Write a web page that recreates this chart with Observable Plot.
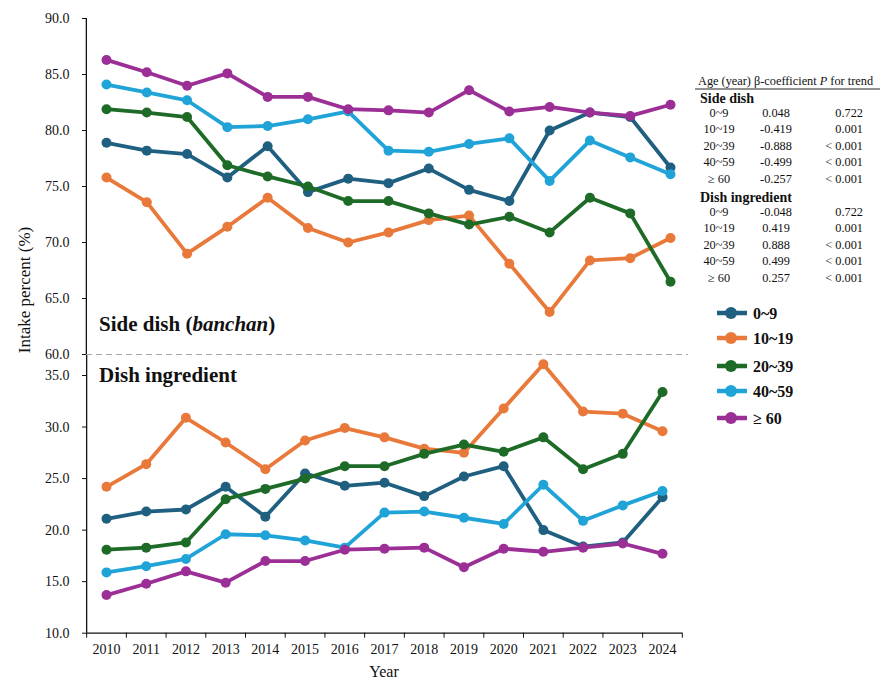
<!DOCTYPE html>
<html><head><meta charset="utf-8">
<script src="https://cdn.jsdelivr.net/npm/d3@7"></script>
<script src="https://cdn.jsdelivr.net/npm/@observablehq/plot@0.6"></script>
<style>
body{margin:0;background:#fff;}
#wrap{position:relative;width:889px;height:687px;overflow:hidden;background:#fff;}
#wrap svg{position:absolute;left:0;}
#wrap svg, #wrap svg text{font-family:"Liberation Serif","Times New Roman","DejaVu Serif","Noto Serif",Times,serif !important;}
</style></head><body><div id="wrap"></div>
<script>
// ---------- data ----------
const years = [2010,2011,2012,2013,2014,2015,2016,2017,2018,2019,2020,2021,2022,2023,2024];
const ageGroups = ["0~9","10~19","20~39","40~59","≥ 60"];
const colors = ["#1f5f80","#e8793a","#1e6b28","#20a4d8","#9b2f96"];

// Side dish (banchan) intake percent
const side_0_9   = [78.9,78.2,77.9,75.8,78.6,74.5,75.7,75.3,76.6,74.7,73.7,80.0,81.6,81.2,76.7];
const side_10_19 = [75.8,73.6,69.0,71.4,74.0,71.3,70.0,70.9,72.0,72.4,68.1,63.8,68.4,68.6,70.4];
const side_20_39 = [81.9,81.6,81.2,76.9,75.9,75.0,73.7,73.7,72.6,71.6,72.3,70.9,74.0,72.6,66.5];
const side_40_59 = [84.1,83.4,82.7,80.3,80.4,81.0,81.7,78.2,78.1,78.8,79.3,75.5,79.1,77.6,76.1];
const side_60    = [86.3,85.2,84.0,85.1,83.0,83.0,81.9,81.8,81.6,83.6,81.7,82.1,81.6,81.3,82.3];

// Dish ingredient intake percent
const ing_0_9   = [21.1,21.8,22.0,24.2,21.3,25.5,24.3,24.6,23.3,25.2,26.2,20.0,18.4,18.8,23.2];
const ing_10_19 = [24.2,26.4,30.9,28.5,25.9,28.7,29.9,29.0,27.9,27.5,31.8,36.1,31.5,31.3,29.6];
const ing_20_39 = [18.1,18.3,18.8,23.0,24.0,25.0,26.2,26.2,27.4,28.3,27.6,29.0,25.9,27.4,33.4];
const ing_40_59 = [15.9,16.5,17.2,19.6,19.5,19.0,18.3,21.7,21.8,21.2,20.6,24.4,20.9,22.4,23.8];
const ing_60    = [13.7,14.8,16.0,14.9,17.0,17.0,18.1,18.2,18.3,16.4,18.2,17.9,18.3,18.7,17.7];

const topTicks = [60,65,70,75,80,85,90];
const bottomTicks = [10,15,20,25,30,35];

// trend table
const tableAges = ["0~9","10~19","20~39","40~59","≥ 60"];
const sideBeta = ["0.048","-0.419","-0.888","-0.499","-0.257"];
const sideP    = ["0.722","0.001","< 0.001","< 0.001","< 0.001"];
const ingBeta  = ["-0.048","0.419","0.888","0.499","0.257"];
const ingP     = ["0.722","0.001","< 0.001","< 0.001","< 0.001"];

// ---------- build ----------
const sideSeries = [side_0_9, side_10_19, side_20_39, side_40_59, side_60];
const ingSeries  = [ing_0_9, ing_10_19, ing_20_39, ing_40_59, ing_60];
const tidy = (series) => ageGroups.map((g, i) => years.map((y, j) => ({year: y, group: g, value: series[i][j]})));
const sideRows = tidy(sideSeries);
const ingRows  = tidy(ingSeries);

const FONT = "Liberation Serif, Times New Roman, DejaVu Serif, Noto Serif, serif";
const baseStyle = {background: "transparent", fontFamily: FONT, fontSize: "14px", color: "#111", overflow: "visible"};

const seriesMarks = (rows) => rows.flatMap(r => [
  Plot.line(r, {x: "year", y: "value", stroke: "group", strokeWidth: 3.8}),
  Plot.dot(r, {x: "year", y: "value", fill: "group", r: 5})
]);

const topPlot = Plot.plot({
  width: 889, height: 360,
  marginTop: 18, marginBottom: 6, marginLeft: 86, marginRight: 201,
  style: baseStyle,
  x: {domain: [2010, 2024], range: [106, 670], axis: null},
  y: {domain: [60, 90], range: [354, 18]},
  color: {domain: ageGroups, range: colors},
  marks: [
    Plot.ruleY([60], {stroke: "#aaa", strokeDasharray: "6,4", strokeWidth: 1}),
    Plot.ruleX([2009.5], {stroke: "#111", strokeWidth: 1.3}),
    Plot.axisY({ticks: topTicks, tickFormat: d => d.toFixed(1), tickSize: 4, tickPadding: 13, label: null, stroke: "#111"}),
    ...seriesMarks(sideRows)
  ]
});

const bottomPlot = Plot.plot({
  width: 889, height: 333,
  marginTop: 0, marginBottom: 54.3, marginLeft: 86, marginRight: 207,
  style: baseStyle,
  x: {domain: [2010, 2024], range: [106, 662]},
  y: {domain: [10, 35], range: [278.7, 21]},
  color: {domain: ageGroups, range: colors},
  marks: [
    Plot.ruleX([2009.5], {stroke: "#111", strokeWidth: 1.3}),
    Plot.ruleY([10], {stroke: "#111", strokeWidth: 1.3}),
    Plot.axisY({ticks: bottomTicks, tickFormat: d => d.toFixed(1), tickSize: 4, tickPadding: 13, label: null, stroke: "#111"}),
    Plot.axisX({ticks: years.map(y => y - 0.5).concat([2024.5]), tickFormat: () => "", tickSize: 5, label: null, stroke: "#111"}),
    Plot.axisX({ticks: years, tickFormat: d => String(d), tickSize: 0, tickPadding: 11, label: null}),
    ...seriesMarks(ingRows)
  ]
});

const wrap = document.getElementById("wrap");
bottomPlot.style.top = "354px";
topPlot.style.top = "0px";
wrap.appendChild(bottomPlot);
wrap.appendChild(topPlot);

// ---------- overlay: titles, legend, table ----------
const ov = d3.select(wrap).append("svg")
  .attr("width", 889).attr("height", 687)
  .attr("font-family", FONT)
  .style("top", "0px").style("pointer-events", "none")
  .style("fill", "#111");

ov.append("text").attr("transform", "translate(30,290) rotate(-90)")
  .attr("text-anchor", "middle").attr("font-size", 17).text("Intake percent (%)");
ov.append("text").attr("x", 384).attr("y", 677).attr("text-anchor", "middle")
  .attr("font-size", 16).text("Year");

const t1 = ov.append("text").attr("x", 99).attr("y", 331).attr("font-size", 21).attr("font-weight", "bold");
t1.append("tspan").text("Side dish (");
t1.append("tspan").attr("font-style", "italic").text("banchan");
t1.append("tspan").text(")");
ov.append("text").attr("x", 99).attr("y", 381.5).attr("font-size", 21).attr("font-weight", "bold").text("Dish ingredient");

// legend
const legendY = [313, 338, 366, 391, 418];
ageGroups.forEach((g, i) => {
  const y = legendY[i];
  ov.append("line").attr("x1", 717).attr("x2", 747).attr("y1", y).attr("y2", y)
    .attr("stroke", colors[i]).attr("stroke-width", 4.5);
  ov.append("circle").attr("cx", 731).attr("cy", y).attr("r", 6).attr("fill", colors[i]);
  ov.append("text").attr("x", 753).attr("y", y + 5.5).attr("font-size", 16)
    .attr("font-weight", "bold").text(g);
});

// table
const hdr = ov.append("text").attr("x", 698).attr("y", 85).attr("font-size", 12.3);
hdr.append("tspan").text("Age (year) β-coefficient ");
hdr.append("tspan").attr("font-style", "italic").text("P");
hdr.append("tspan").text(" for trend");
ov.append("line").attr("x1", 695).attr("x2", 880).attr("y1", 89).attr("y2", 89)
  .attr("stroke", "#222").attr("stroke-width", 1);

ov.append("text").attr("x", 700).attr("y", 103).attr("font-size", 14).attr("font-weight", "bold").text("Side dish");
ov.append("text").attr("x", 700).attr("y", 201.5).attr("font-size", 14).attr("font-weight", "bold").text("Dish ingredient");

const tableBlock = (y0, betas, ps) => {
  tableAges.forEach((a, i) => {
    const y = y0 + i * 16.5 + 4;
    ov.append("text").attr("x", 719).attr("y", y).attr("font-size", 12.3).attr("text-anchor", "middle").text(a);
    ov.append("text").attr("x", 776).attr("y", y).attr("font-size", 12.3).attr("text-anchor", "middle").text(betas[i]);
    ov.append("text").attr("x", 863).attr("y", y).attr("font-size", 12.3).attr("text-anchor", "end").text(ps[i]);
  });
};
tableBlock(112.7, sideBeta, sideP);
tableBlock(211.7, ingBeta, ingP);
</script>
</body></html>
